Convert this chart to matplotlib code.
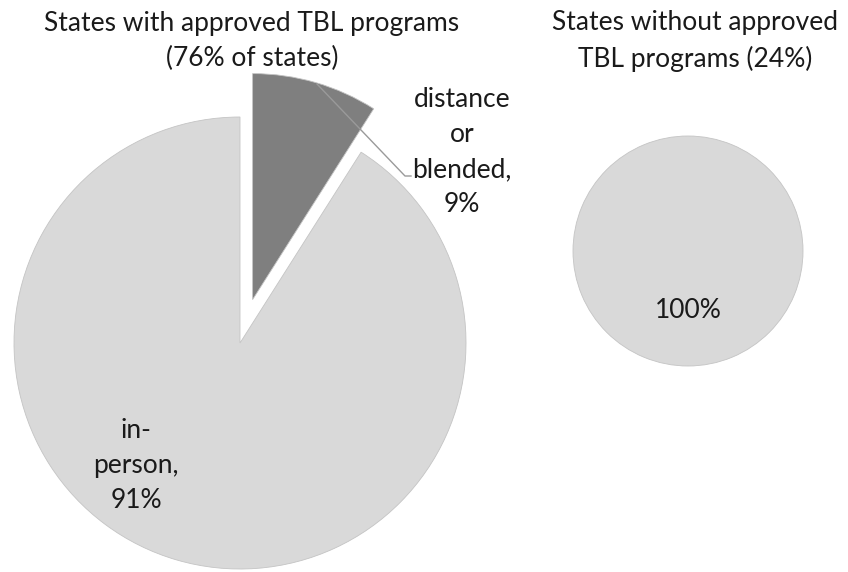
import matplotlib
matplotlib.use("Agg")
import matplotlib.pyplot as plt

# Data
with_labels = ["distance\nor\nblended,\n9%", "in-\nperson,\n91%"]
with_values = [9, 91]
without_values = [100]
without_labels = ["100%"]
titles = ["States with approved TBL programs\n(76% of states)",
          "States without approved\nTBL programs (24%)"]

dark = "#7f7f7f"
light = "#d9d9d9"

plt.rcParams["font.family"] = ["Lato", "DejaVu Sans"]
fs = 19
ls = 1.5

fig = plt.figure(figsize=(8.48, 5.72), dpi=100)
ax = fig.add_axes([0, 0, 1, 1])

# left pie, small slice pulled out (explode is in axes units here)
r1 = 226
ax.pie(with_values, colors=[dark, light], startangle=90, counterclock=False,
       explode=[0.2 * r1, 0], center=(240, 229), radius=r1, frame=True,
       wedgeprops=dict(edgecolor="#c4c4c4", linewidth=0.6))

# right pie
ax.pie(without_values, colors=[light], startangle=90, center=(688, 321), radius=115,
       frame=True, wedgeprops=dict(edgecolor="#c4c4c4", linewidth=0.6))

ax.set_xlim(0, 848)
ax.set_ylim(0, 572)
ax.set_aspect("equal")
ax.axis("off")

# slice labels
ax.text(136, 106, with_labels[1], ha="center", va="center", fontsize=fs,
        linespacing=ls, color="#1a1a1a")
ax.text(462, 420, with_labels[0], ha="center", va="center", fontsize=fs,
        linespacing=ls, color="#1a1a1a")
ax.text(688, 262, without_labels[0], ha="center", va="center", fontsize=fs, color="#1a1a1a")

# leader line for the small slice
ax.plot([317, 405, 411], [488, 396, 396], color="#9a9a9a", linewidth=1)

# titles
ax.text(252, 531, titles[0], ha="center", va="center", fontsize=fs,
        linespacing=ls, color="#1a1a1a")
ax.text(695, 531, titles[1], ha="center", va="center", fontsize=fs,
        linespacing=ls, color="#1a1a1a")

plt.savefig("out.png", dpi=100)
